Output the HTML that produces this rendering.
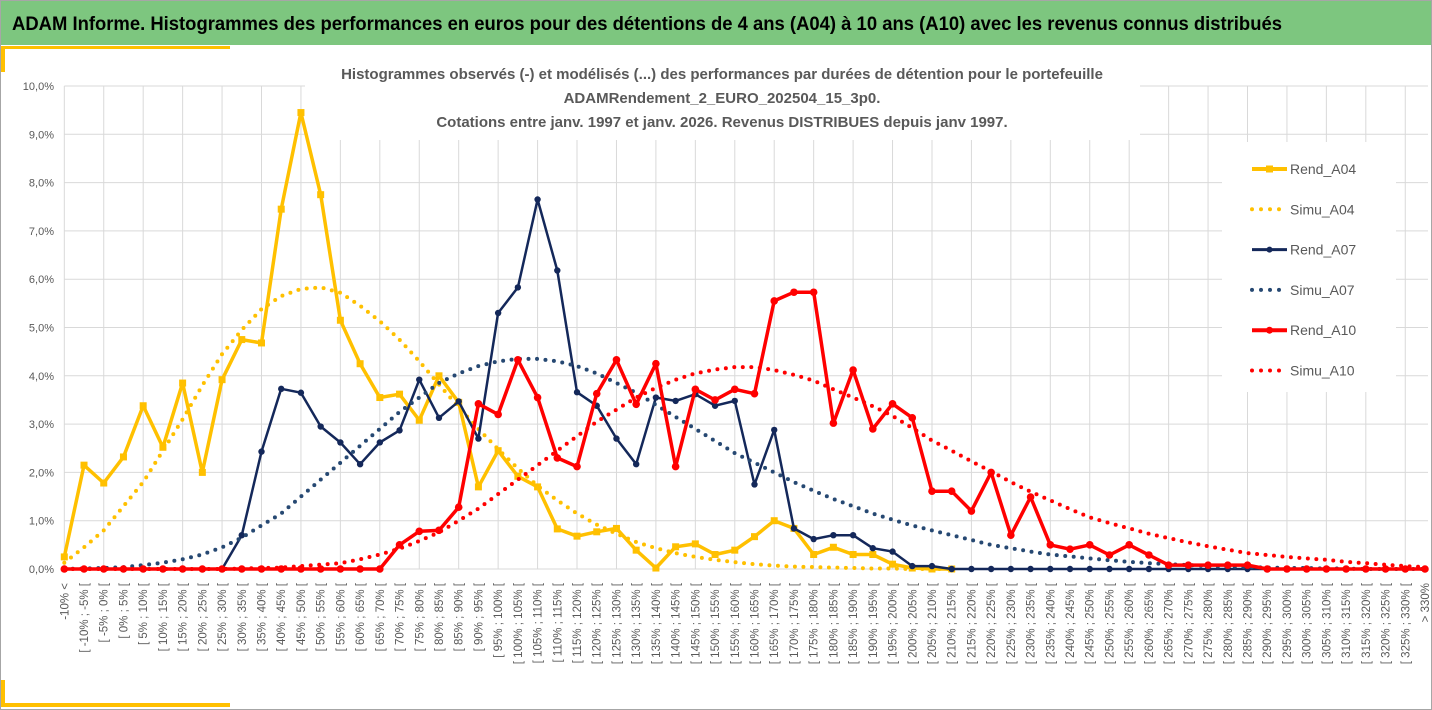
<!DOCTYPE html>
<html><head><meta charset="utf-8"><style>
html,body{margin:0;padding:0;background:#fff;}
svg{display:block;font-family:"Liberation Sans",Arial,sans-serif;}
</style></head><body>
<svg id="chart" width="1432" height="710" viewBox="0 0 1432 710">
<rect x="0.5" y="0.5" width="1431" height="709" fill="#fff" stroke="#a6a6a6"/>
<rect x="1" y="1" width="1430" height="44" fill="#7dc67f"/>
<text x="12" y="30" font-size="19" font-weight="bold" fill="#000" textLength="1270" lengthAdjust="spacingAndGlyphs">ADAM Informe. Histogrammes des performances en euros pour des détentions de 4 ans (A04) à 10 ans (A10) avec les revenus connus distribués</text>
<rect x="4" y="46" width="226" height="3" fill="#ffc000"/>
<rect x="1" y="46" width="4" height="26" fill="#ffc000"/>
<rect x="4" y="703" width="226" height="4" fill="#ffc000"/>
<rect x="1" y="680" width="4" height="27" fill="#ffc000"/>
<g id="grid"></g>
<rect x="305" y="60" width="835" height="80" fill="#fff"/>
<rect x="1222" y="142" width="174" height="250" fill="#fff"/>
<g font-size="15" font-weight="bold" fill="#595959" text-anchor="middle">
<text x="722" y="79">Histogrammes observés (-) et modélisés (...) des performances par durées de détention pour le portefeuille</text>
<text x="722" y="103">ADAMRendement_2_EURO_202504_15_3p0.</text>
<text x="722" y="127">Cotations  entre janv. 1997 et janv. 2026. Revenus DISTRIBUES depuis janv 1997.</text>
</g>
<g id="yticks"></g>
<g id="xticks"></g>
<g id="series"></g>
<g id="legend"></g>
</svg>
<script>
const yTicks = [0,1,2,3,4,5,6,7,8,9,10];
const rendA04 = [0.25,2.15,1.78,2.32,3.38,2.52,3.85,2.0,3.92,4.75,4.68,7.45,9.45,7.75,5.15,4.25,3.55,3.62,3.08,4.0,3.45,1.7,2.45,1.92,1.7,0.83,0.68,0.77,0.84,0.39,0.02,0.46,0.52,0.3,0.39,0.67,1.0,0.84,0.3,0.45,0.3,0.3,0.1,0.02,0.0,0.0];
const simuA04 = [0.13,0.45,0.8,1.3,1.8,2.45,3.1,3.8,4.45,4.95,5.38,5.65,5.8,5.83,5.72,5.45,5.13,4.75,4.3,3.82,3.35,2.9,2.48,2.08,1.72,1.42,1.15,0.92,0.73,0.56,0.43,0.33,0.25,0.19,0.14,0.1,0.07,0.05,0.04,0.03,0.02,0.01,0.01,0,0,0];
const rendA07 = [0,0,0,0,0,0,0,0,0,0.7,2.43,3.73,3.65,2.95,2.62,2.17,2.62,2.87,3.92,3.13,3.47,2.7,5.3,5.83,7.65,6.18,3.66,3.38,2.7,2.17,3.55,3.48,3.62,3.38,3.48,1.75,2.88,0.84,0.62,0.7,0.7,0.43,0.36,0.06,0.06,0,0,0,0,0,0,0,0,0,0,0,0,0,0,0,0,0,0,0,0,0,0,0,0];
const simuA07 = [0,0.01,0.02,0.04,0.08,0.13,0.2,0.3,0.45,0.65,0.9,1.15,1.5,1.85,2.2,2.55,2.9,3.25,3.55,3.85,4.05,4.2,4.3,4.35,4.35,4.3,4.2,4.05,3.85,3.65,3.4,3.15,2.9,2.65,2.4,2.2,2.0,1.8,1.62,1.45,1.3,1.15,1.02,0.9,0.8,0.7,0.6,0.5,0.43,0.36,0.3,0.26,0.22,0.18,0.15,0.12,0.1,0.08,0.06,0.05,0.04,0.03,0.02,0.02,0.01,0.01,0,0,0,0];
const rendA10 = [0,0,0,0,0,0,0,0,0,0,0,0,0,0,0,0,0,0.5,0.78,0.8,1.28,3.42,3.2,4.33,3.55,2.3,2.12,3.63,4.33,3.41,4.25,2.12,3.72,3.5,3.72,3.63,5.55,5.73,5.73,3.02,4.12,2.9,3.42,3.13,1.61,1.61,1.2,2.0,0.7,1.49,0.5,0.41,0.5,0.29,0.5,0.29,0.08,0.08,0.08,0.08,0.08,0,0,0,0,0,0,0,0,0];
const simuA10 = [0,0,0,0,0,0,0,0,0,0.01,0.02,0.03,0.06,0.09,0.12,0.2,0.3,0.42,0.58,0.76,1.0,1.25,1.55,1.85,2.15,2.45,2.75,3.05,3.3,3.55,3.75,3.92,4.05,4.13,4.18,4.18,4.12,4.02,3.9,3.72,3.55,3.37,3.17,2.92,2.66,2.45,2.23,2.02,1.8,1.6,1.42,1.24,1.07,0.95,0.84,0.73,0.64,0.55,0.47,0.4,0.33,0.29,0.25,0.22,0.19,0.15,0.12,0.09,0.06,0.04];
const categories = ["-10% <"];
for (let a = -10; a < 330; a += 5) categories.push("[ " + a + "% ; " + (a + 5) + "% [");
categories.push("> 330%");

const NS = "http://www.w3.org/2000/svg";
const X0 = 64.3, DX = 19.72, Y0 = 569, DY = 48.3;
const xs = i => X0 + i * DX;
const ys = v => Y0 - v * DY;
function mk(tag, attrs, parent) {
  const e = document.createElementNS(NS, tag);
  for (const k in attrs) e.setAttribute(k, attrs[k]);
  parent.appendChild(e);
  return e;
}
const grid = document.getElementById('grid');
for (const t of yTicks) {
  const l = mk('line', {x1: X0, x2: 1428, y1: ys(t), y2: ys(t), stroke: '#d9d9d9', 'stroke-width': 1}, grid);
  
  
}
for (let i = 0; i < categories.length; i += 2) {
  const l = mk('line', {x1: xs(i), x2: xs(i), y1: ys(10), y2: Y0, stroke: '#d9d9d9', 'stroke-width': 1}, grid);
  
  
}
const yg = document.getElementById('yticks');
for (const t of yTicks) {
  const tx = mk('text', {x: 54, y: ys(t) + 4, 'font-size': 11, fill: '#595959', 'text-anchor': 'end'}, yg);
  tx.textContent = t.toFixed(1).replace('.', ',') + '%';
  
  
}
const xg = document.getElementById('xticks');
categories.forEach((c, i) => {
  const x = xs(i) + 4, y = 583;
  const tx = mk('text', {x: x, y: y, 'font-size': 11.5, fill: '#595959', 'text-anchor': 'end', transform: 'rotate(-90 ' + x + ' ' + y + ')'}, xg);
  tx.textContent = c;
  
  
});
const sg = document.getElementById('series');
function ptsOf(arr) { return arr.map((v, i) => xs(i).toFixed(1) + ',' + ys(v).toFixed(1)).join(' '); }
function solid(arr, color, w, marker, name) {
  const g = mk('g', {}, sg);
  
  
  const p = mk('polyline', {points: ptsOf(arr), fill: 'none', stroke: color, 'stroke-width': w, 'stroke-linejoin': 'round'}, g);
  
  
  arr.forEach((v, i) => {
    let m;
    if (marker === 'sq') m = mk('rect', {x: xs(i) - 3.5, y: ys(v) - 3.5, width: 7, height: 7, fill: color}, g);
    else m = mk('circle', {cx: xs(i), cy: ys(v), r: marker, fill: color}, g);
    
    
  });
}
function dotted(arr, color, name) {
  const p = mk('polyline', {points: ptsOf(arr), fill: 'none', stroke: color, 'stroke-width': 4, 'stroke-linecap': 'round', 'stroke-dasharray': '0 8.5'}, sg);
  
  
}
solid(rendA04, '#ffc000', 3.5, 'sq', 'rend-a04');
dotted(simuA04, '#ffc000', 'simu-a04');
solid(rendA07, '#14285a', 2.5, 3.2, 'rend-a07');
dotted(simuA07, '#264872', 'simu-a07');
solid(rendA10, '#ff0000', 3.5, 3.8, 'rend-a10');
dotted(simuA10, '#ff0000', 'simu-a10');

const lg = document.getElementById('legend');
const legendItems = [
  ['Rend_A04', '#ffc000', false, 'sq'], ['Simu_A04', '#ffc000', true], ['Rend_A07', '#14285a', false, 3],
  ['Simu_A07', '#264872', true], ['Rend_A10', '#ff0000', false, 3.5], ['Simu_A10', '#ff0000', true]];
legendItems.forEach((it, k) => {
  const y = 169 + k * 40.3;
  const g = mk('g', {}, lg);
  
  
  if (it[2]) {
    mk('line', {x1: 1252, x2: 1282, y1: y, y2: y, stroke: it[1], 'stroke-width': 4, 'stroke-linecap': 'round', 'stroke-dasharray': '0 9'}, g);
  } else {
    mk('line', {x1: 1252, x2: 1287, y1: y, y2: y, stroke: it[1], 'stroke-width': it[1] === '#14285a' ? 3 : 4}, g);
    if (it[3] === 'sq') mk('rect', {x: 1266, y: y - 3.5, width: 7, height: 7, fill: it[1]}, g);
    else mk('circle', {cx: 1269.5, cy: y, r: it[3], fill: it[1]}, g);
  }
  const t = mk('text', {x: 1290, y: y + 5, 'font-size': 14, fill: '#595959'}, g);
  t.textContent = it[0];
});
</script>
</body></html>
